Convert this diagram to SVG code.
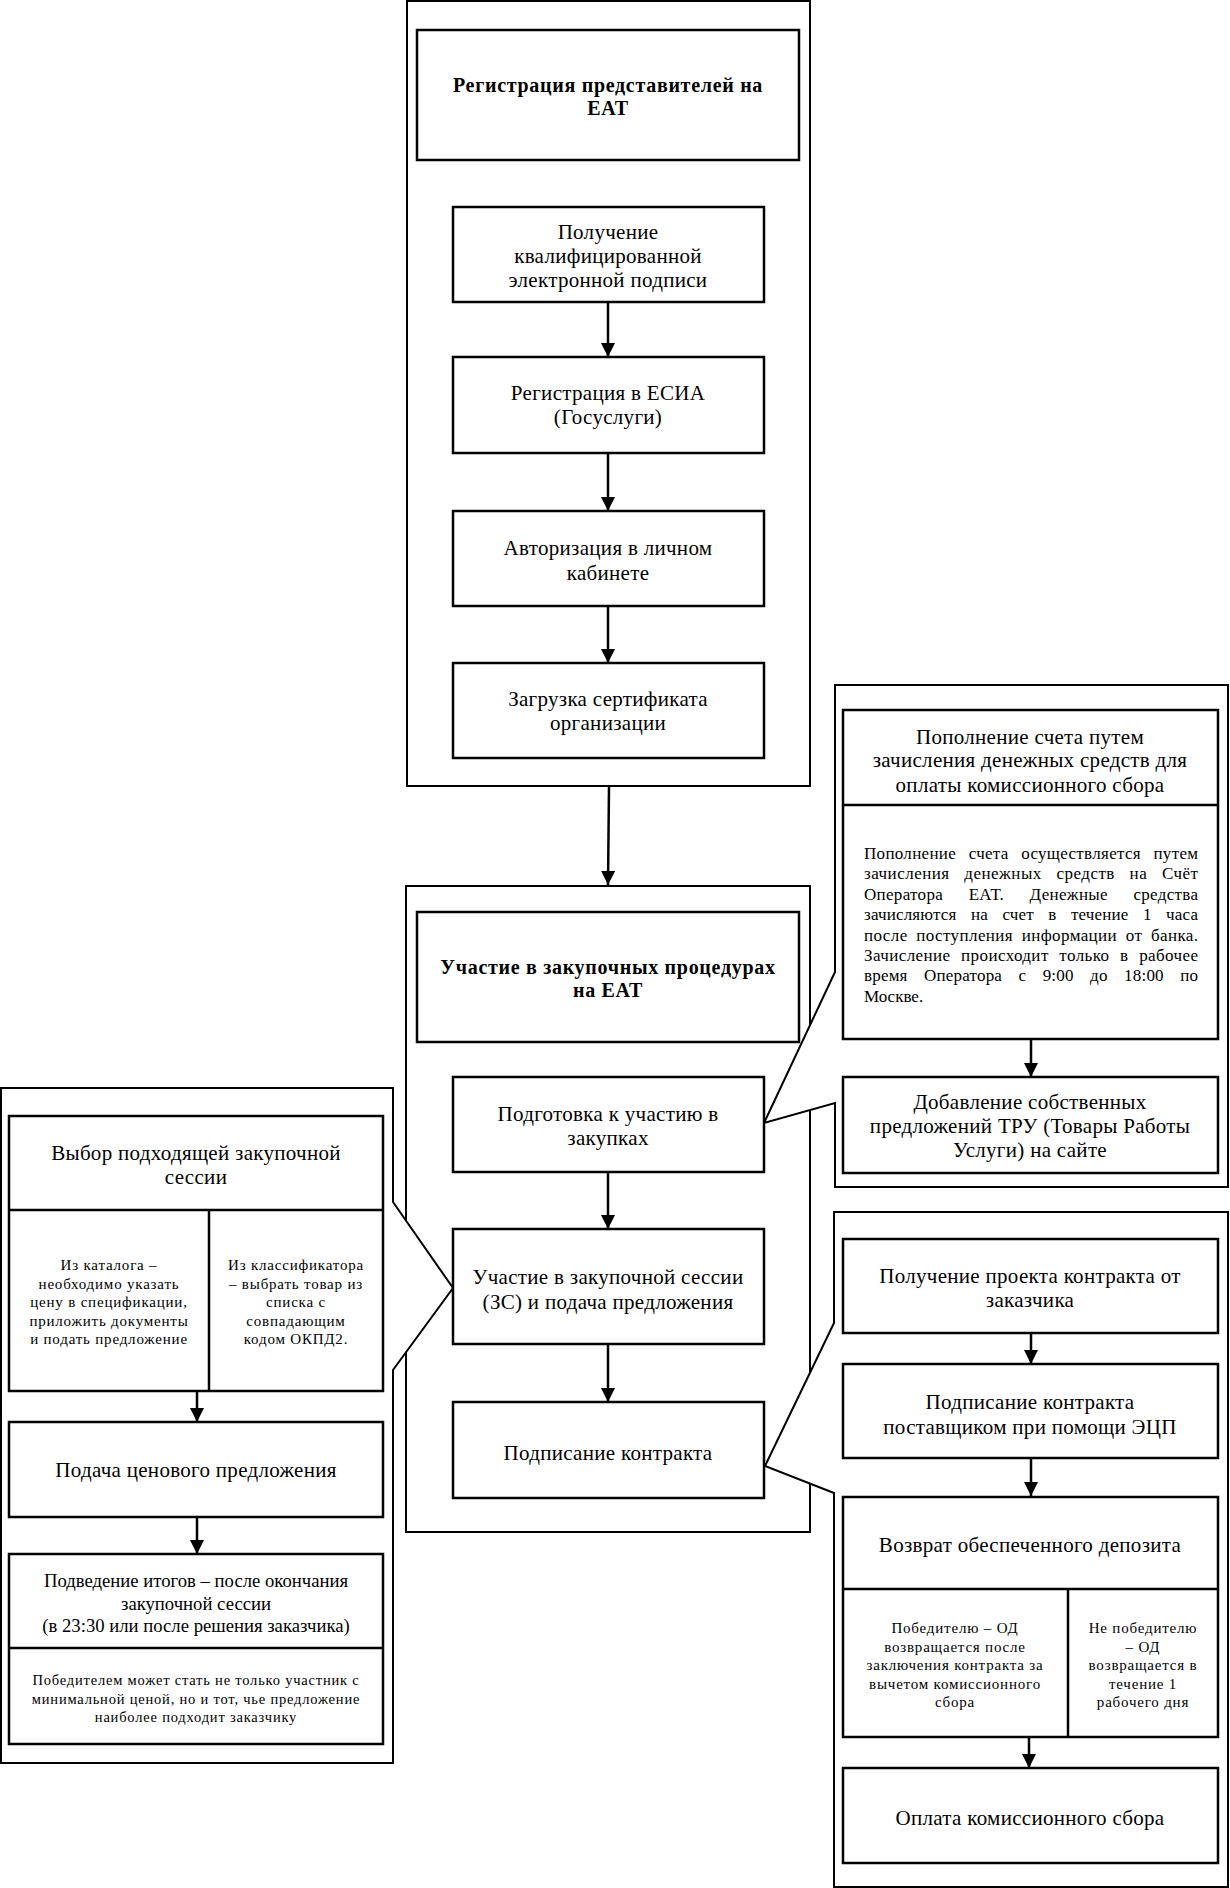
<svg xmlns="http://www.w3.org/2000/svg" width="1230" height="1888" viewBox="0 0 1230 1888">
<style>
.cont{fill:#fff;stroke:#000;stroke-width:2}
.box{fill:#fff;stroke:#000;stroke-width:2.5}
.ln{fill:none;stroke:#000;stroke-width:2.5}
.t{font-family:"Liberation Serif","Times New Roman",serif;font-size:21px;text-anchor:middle;fill:#000;letter-spacing:0.3px}
.tb{font-family:"Liberation Serif","Times New Roman",serif;font-size:20px;font-weight:bold;text-anchor:middle;fill:#000;letter-spacing:0.7px}
.s{font-family:"Liberation Serif","Times New Roman",serif;font-size:15px;text-anchor:middle;fill:#000;letter-spacing:0.8px}
.p{font-family:"Liberation Serif","Times New Roman",serif;font-size:17px;fill:#000}
.m{font-family:"Liberation Serif","Times New Roman",serif;font-size:18.7px;text-anchor:middle;fill:#000}
</style>
<defs>
<marker id="ah" markerWidth="14" markerHeight="14" refX="14" refY="7" orient="auto" markerUnits="userSpaceOnUse">
<path d="M0,0 L14,7 L0,14 Z" fill="#000"/>
</marker>
</defs>
<rect width="1230" height="1888" fill="#fff"/>

<g id="group-registration">
<rect class="cont" x="407" y="1" width="403" height="785"/>
</g>
<g id="group-participation">
<rect class="cont" x="406" y="886" width="404" height="646"/>
</g>

<g id="callout-preparation">
<path class="cont" d="M835,685 H1228 V1187 H835 V1103 L764,1123 L835,972 Z"/>
</g>
<g id="callout-session">
<path class="cont" d="M1,1088 H393 V1202 L453,1288 L393,1370 V1763 H1 Z"/>
</g>
<g id="callout-contract">
<path class="cont" d="M834,1212 H1228 V1887 H834 V1493 L765,1466 L834,1323 Z"/>
</g>

<g id="title-registration">
<rect class="box" x="417" y="30" width="382" height="130"/>
<text class="tb" x="608" y="92">Регистрация представителей на</text>
<text class="tb" x="608" y="115">ЕАТ</text>
</g>
<g id="n-kep">
<rect class="box" x="453" y="207" width="311" height="95"/>
<text class="t" x="608" y="239">Получение</text>
<text class="t" x="608" y="263">квалифицированной</text>
<text class="t" x="608" y="287">электронной подписи</text>
</g>
<g id="n-esia">
<rect class="box" x="453" y="357" width="311" height="96"/>
<text class="t" x="608" y="400">Регистрация в ЕСИА</text>
<text class="t" x="608" y="424">(Госуслуги)</text>
</g>
<g id="n-auth">
<rect class="box" x="453" y="511" width="311" height="95"/>
<text class="t" x="608" y="555">Авторизация в личном</text>
<text class="t" x="608" y="580">кабинете</text>
</g>
<g id="n-cert">
<rect class="box" x="453" y="663" width="311" height="95"/>
<text class="t" x="608" y="706">Загрузка сертификата</text>
<text class="t" x="608" y="730">организации</text>
</g>

<g id="title-participation">
<rect class="box" x="417" y="912" width="382" height="130"/>
<text class="tb" x="608" y="974">Участие в закупочных процедурах</text>
<text class="tb" x="608" y="997">на ЕАТ</text>
</g>
<g id="n-prep">
<rect class="box" x="453" y="1077" width="311" height="95"/>
<text class="t" x="608" y="1121">Подготовка к участию в</text>
<text class="t" x="608" y="1145">закупках</text>
</g>
<g id="n-session">
<rect class="box" x="453" y="1229" width="311" height="115"/>
<text class="t" x="608" y="1284">Участие в закупочной сессии</text>
<text class="t" x="608" y="1309">(ЗС) и подача предложения</text>
</g>
<g id="n-sign">
<rect class="box" x="453" y="1402" width="311" height="96"/>
<text class="t" x="608" y="1460">Подписание контракта</text>
</g>

<g id="n-topup">
<rect class="box" x="843" y="710" width="375" height="329"/>
<line class="ln" x1="843" y1="805" x2="1218" y2="805"/>
<text class="t" x="1030" y="744">Пополнение счета путем</text>
<text class="t" x="1030" y="767">зачисления денежных средств для</text>
<text class="t" x="1030" y="792">оплаты комиссионного сбора</text>
<text class="p" x="864" y="859" word-spacing="8" textLength="334" lengthAdjust="spacing">Пополнение счета осуществляется путем</text>
<text class="p" x="864" y="879.4" word-spacing="10" textLength="334" lengthAdjust="spacing">зачисления денежных средств на Счёт</text>
<text class="p" x="864" y="899.8" word-spacing="21" textLength="334" lengthAdjust="spacing">Оператора ЕАТ. Денежные средства</text>
<text class="p" x="864" y="920.2" word-spacing="10" textLength="334" lengthAdjust="spacing">зачисляются на счет в течение 1 часа</text>
<text class="p" x="864" y="940.6" word-spacing="4" textLength="334" lengthAdjust="spacing">после поступления информации от банка.</text>
<text class="p" x="864" y="961" word-spacing="6" textLength="334" lengthAdjust="spacing">Зачисление происходит только в рабочее</text>
<text class="p" x="864" y="981.4" word-spacing="12" textLength="334" lengthAdjust="spacing">время Оператора с 9:00 до 18:00 по</text>
<text class="p" x="864" y="1001.8">Москве.</text>
</g>
<g id="n-offers">
<rect class="box" x="843" y="1077" width="375" height="96"/>
<text class="t" x="1030" y="1109">Добавление собственных</text>
<text class="t" x="1030" y="1133">предложений ТРУ (Товары Работы</text>
<text class="t" x="1030" y="1157">Услуги) на сайте</text>
</g>

<g id="n-choose">
<rect class="box" x="9" y="1116" width="374" height="275"/>
<line class="ln" x1="9" y1="1210" x2="383" y2="1210"/>
<line class="ln" x1="209" y1="1210" x2="209" y2="1391"/>
<text class="t" x="196" y="1160">Выбор подходящей закупочной</text>
<text class="t" x="196" y="1184">сессии</text>
<text class="s" x="109" y="1270">Из каталога –</text>
<text class="s" x="109" y="1288.5">необходимо указать</text>
<text class="s" x="109" y="1307">цену в спецификации,</text>
<text class="s" x="109" y="1325.5">приложить документы</text>
<text class="s" x="109" y="1344">и подать предложение</text>
<text class="s" x="296" y="1270">Из классификатора</text>
<text class="s" x="296" y="1288.5">– выбрать товар из</text>
<text class="s" x="296" y="1307">списка с</text>
<text class="s" x="296" y="1325.5">совпадающим</text>
<text class="s" x="296" y="1344">кодом ОКПД2.</text>
</g>
<g id="n-price">
<rect class="box" x="9" y="1422" width="374" height="95"/>
<text class="t" x="196" y="1477">Подача ценового предложения</text>
</g>
<g id="n-results">
<rect class="box" x="9" y="1554" width="374" height="190"/>
<line class="ln" x1="9" y1="1648" x2="383" y2="1648"/>
<text class="m" x="196" y="1587">Подведение итогов – после окончания</text>
<text class="m" x="196" y="1610">закупочной сессии</text>
<text class="m" x="196" y="1632">(в 23:30 или после решения заказчика)</text>
<text class="s" x="196" y="1685" style="font-size:14.5px">Победителем может стать не только участник с</text>
<text class="s" x="196" y="1703.5" style="font-size:14.5px">минимальной ценой, но и тот, чье предложение</text>
<text class="s" x="196" y="1722" style="font-size:14.5px">наиболее подходит заказчику</text>
</g>

<g id="n-draft">
<rect class="box" x="843" y="1239" width="375" height="94"/>
<text class="t" x="1030" y="1283">Получение проекта контракта от</text>
<text class="t" x="1030" y="1307">заказчика</text>
</g>
<g id="n-sign-supplier">
<rect class="box" x="843" y="1364" width="375" height="94"/>
<text class="t" x="1030" y="1409">Подписание контракта</text>
<text class="t" x="1030" y="1434">поставщиком при помощи ЭЦП</text>
</g>
<g id="n-deposit">
<rect class="box" x="843" y="1497" width="375" height="240"/>
<line class="ln" x1="843" y1="1589" x2="1218" y2="1589"/>
<line class="ln" x1="1068" y1="1589" x2="1068" y2="1737"/>
<text class="t" x="1030" y="1552">Возврат обеспеченного депозита</text>
<text class="s" x="955" y="1633">Победителю – ОД</text>
<text class="s" x="955" y="1651.5">возвращается после</text>
<text class="s" x="955" y="1670">заключения контракта за</text>
<text class="s" x="955" y="1688.5">вычетом комиссионного</text>
<text class="s" x="955" y="1707">сбора</text>
<text class="s" x="1143" y="1633">Не победителю</text>
<text class="s" x="1143" y="1651.5">– ОД</text>
<text class="s" x="1143" y="1670">возвращается в</text>
<text class="s" x="1143" y="1688.5">течение 1</text>
<text class="s" x="1143" y="1707">рабочего дня</text>
</g>
<g id="n-fee">
<rect class="box" x="843" y="1768" width="375" height="95"/>
<text class="t" x="1030" y="1825">Оплата комиссионного сбора</text>
</g>

<g id="connectors">
<line class="ln" x1="608" y1="302" x2="608" y2="357" marker-end="url(#ah)"/>
<line class="ln" x1="608" y1="453" x2="608" y2="511" marker-end="url(#ah)"/>
<line class="ln" x1="608" y1="606" x2="608" y2="663" marker-end="url(#ah)"/>
<line class="ln" x1="609" y1="786" x2="608" y2="885" marker-end="url(#ah)"/>
<line class="ln" x1="608" y1="1172" x2="608" y2="1229" marker-end="url(#ah)"/>
<line class="ln" x1="608" y1="1344" x2="608" y2="1402" marker-end="url(#ah)"/>
<line class="ln" x1="1031" y1="1039" x2="1031" y2="1077" marker-end="url(#ah)"/>
<line class="ln" x1="197" y1="1391" x2="197" y2="1422" marker-end="url(#ah)"/>
<line class="ln" x1="197" y1="1517" x2="197" y2="1554" marker-end="url(#ah)"/>
<line class="ln" x1="1031" y1="1333" x2="1031" y2="1364" marker-end="url(#ah)"/>
<line class="ln" x1="1031" y1="1458" x2="1031" y2="1496" marker-end="url(#ah)"/>
<line class="ln" x1="1029" y1="1737" x2="1029" y2="1768" marker-end="url(#ah)"/>
</g>
</svg>
